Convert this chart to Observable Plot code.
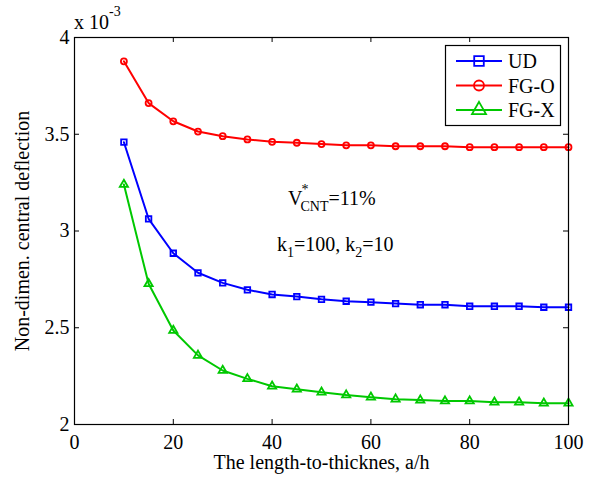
<!DOCTYPE html>
<html>
<head>
<meta charset="utf-8">
<script src="https://cdn.jsdelivr.net/npm/d3@7"></script>
<script src="https://cdn.jsdelivr.net/npm/@observablehq/plot@0.6"></script>
<style>
  html, body { margin: 0; padding: 0; background: #fff; }
  #chart { width: 589px; height: 479px; }
</style>
</head>
<body>
<div id="chart"></div>
<script>
// ---- data (values in units of 10^-3) ----
const aOverH = [10, 15, 20, 25, 30, 35, 40, 45, 50, 55, 60, 65, 70, 75, 80, 85, 90, 95, 100];
const udValues  = [3.459, 3.063, 2.885, 2.784, 2.732, 2.696, 2.672, 2.661, 2.647, 2.637, 2.632, 2.625, 2.619, 2.619, 2.611, 2.611, 2.611, 2.606, 2.606];
const fgoValues = [3.877, 3.661, 3.567, 3.514, 3.490, 3.473, 3.461, 3.456, 3.449, 3.443, 3.443, 3.438, 3.438, 3.438, 3.433, 3.433, 3.433, 3.433, 3.433];
const fgxValues = [3.240, 2.727, 2.486, 2.357, 2.279, 2.236, 2.198, 2.182, 2.167, 2.152, 2.141, 2.131, 2.126, 2.121, 2.121, 2.115, 2.115, 2.110, 2.110];
const seriesNames = ["UD", "FG-O", "FG-X"];
const seriesColors = ["#0000ff", "#ff0000", "#00c800"];
const seriesSymbols = ["square", "circle", "triangle"];
const xTicks = [0, 20, 40, 60, 80, 100];
const yTicks = [2, 2.5, 3, 3.5, 4];
const xLabel = "The length-to-thicknes, a/h";
const yLabel = "Non-dimen. central deflection";

const allValues = [udValues, fgoValues, fgxValues];
const rows = [];
seriesNames.forEach((name, i) => {
  aOverH.forEach((x, j) => rows.push({series: name, x, y: allValues[i][j]}));
});

const W = 589, H = 479, mL = 74, mR = 21, mT = 37, mB = 55;
const frameH = H - mT - mB, frameW = W - mL - mR;
const tickLen = 5;
const font = "Liberation Serif";

const colorScale = {domain: seriesNames, range: seriesColors};
const symbolScale = {domain: seriesNames, range: seriesSymbols};
const rBySeries = {"UD": 5.4, "FG-O": 5, "FG-X": 5.2};

const chart = Plot.plot({
  width: W, height: H,
  marginLeft: mL, marginRight: mR, marginTop: mT, marginBottom: mB,
  style: {fontFamily: font, fontSize: "20px", background: "#fff", color: "#000", overflow: "visible"},
  x: {domain: [0, 100]},
  y: {domain: [2, 4]},
  color: colorScale,
  symbol: symbolScale,
  marks: [
    Plot.axisX(xTicks, {tickSize: 0, tickPadding: 10, label: null, tickFormat: d => String(d), fontSize: 20}),
    Plot.axisY(yTicks, {tickSize: 0, tickPadding: 5, label: null, tickFormat: d => String(d), fontSize: 20}),
    Plot.tickX(xTicks, {x: d => d, insetTop: frameH - tickLen, stroke: "#000"}),
    Plot.tickX(xTicks, {x: d => d, insetBottom: frameH - tickLen, stroke: "#000"}),
    Plot.tickY(yTicks, {y: d => d, insetRight: frameW - tickLen, stroke: "#000"}),
    Plot.tickY(yTicks, {y: d => d, insetLeft: frameW - tickLen, stroke: "#000"}),
    Plot.line(rows, {x: "x", y: "y", z: "series", stroke: "series", strokeWidth: 2}),
    Plot.dot(rows, {x: "x", y: "y", stroke: "series", symbol: "series", r: d => rBySeries[d.series], fill: "none", strokeWidth: 1.8}),
    Plot.frame({stroke: "#000", strokeWidth: 1.2}),
    Plot.text([xLabel], {text: d => d, frameAnchor: "bottom", dy: 44, fontSize: 20}),
    Plot.text([yLabel], {text: d => d, frameAnchor: "left", textAnchor: "middle", rotate: -90, dx: -52, fontSize: 20})
  ]
});
document.getElementById("chart").appendChild(chart);

const svg = d3.select(chart);
// exponent label
const expo = svg.append("text").attr("x", 74).attr("y", 29).attr("font-size", 20)
  .attr("fill", "#000").attr("text-anchor", "start");
expo.append("tspan").text("x 10");
expo.append("tspan").attr("dy", -13).attr("font-size", 14).text("-3");

// annotations
const a1 = svg.append("text").attr("x", 288).attr("y", 205).attr("font-size", 20)
  .attr("fill", "#000").attr("text-anchor", "start");
a1.append("tspan").text("V");
a1.append("tspan").attr("dy", -11).attr("dx", -1).attr("font-size", 14).text("*");
a1.append("tspan").attr("dy", 17).attr("dx", -8).attr("font-size", 14).text("CNT");
a1.append("tspan").attr("dy", -6).text("=11%");

const a2 = svg.append("text").attr("x", 277).attr("y", 251).attr("font-size", 20)
  .attr("fill", "#000").attr("text-anchor", "start");
a2.append("tspan").text("k");
a2.append("tspan").attr("dy", 6).attr("font-size", 14).text("1");
a2.append("tspan").attr("dy", -6).text("=100, k");
a2.append("tspan").attr("dy", 6).attr("font-size", 14).text("2");
a2.append("tspan").attr("dy", -6).text("=10");

// legend
const lg = svg.append("g");
lg.append("rect").attr("x", 445.5).attr("y", 45.5).attr("width", 115).attr("height", 80)
  .attr("fill", "#fff").attr("stroke", "#000").attr("stroke-width", 1.2);
const symMap = {square: d3.symbolSquare, circle: d3.symbolCircle, triangle: d3.symbolTriangle};
seriesNames.forEach((name, i) => {
  const y = 61 + i * 24.5;
  lg.append("line").attr("x1", 456).attr("x2", 502).attr("y1", y).attr("y2", y)
    .attr("stroke", seriesColors[i]).attr("stroke-width", 2);
  const r = rBySeries[name];
  lg.append("path").attr("d", d3.symbol(symMap[seriesSymbols[i]], r * r * Math.PI)())
    .attr("transform", `translate(479,${y})`).attr("fill", "none")
    .attr("stroke", seriesColors[i]).attr("stroke-width", 1.8);
  lg.append("text").attr("x", 508).attr("y", y).attr("dy", "0.35em").attr("font-size", 20)
    .attr("fill", "#000").attr("text-anchor", "start").text(name);
});

// force the serif font on every text
svg.style("font-family", "'Liberation Serif'");
svg.selectAll("text").style("font-family", "'Liberation Serif'");
svg.selectAll("g").style("font-family", "'Liberation Serif'");
</script>
</body>
</html>
